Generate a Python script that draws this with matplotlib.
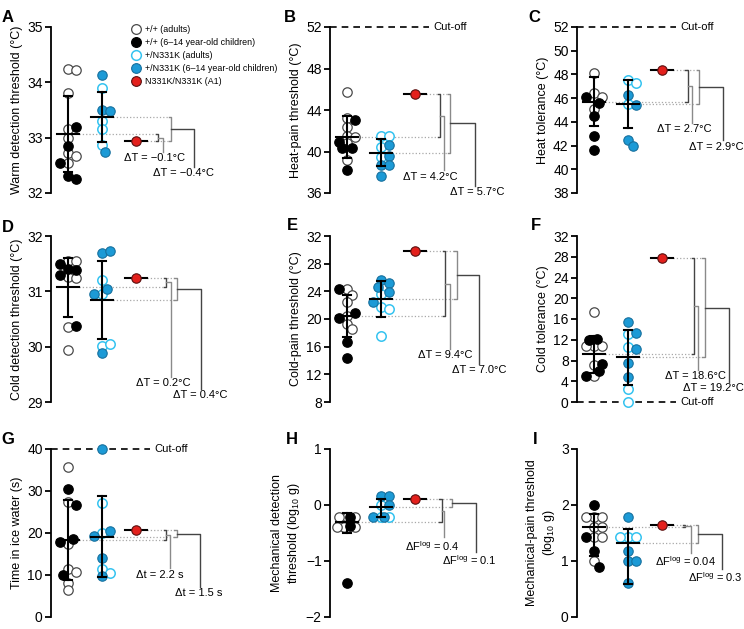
import matplotlib.pyplot as plt
from matplotlib.lines import Line2D

plt.rcParams['font.family'] = ['Liberation Sans', 'DejaVu Sans']
plt.rcParams['mathtext.fontset'] = 'custom'
plt.rcParams['mathtext.rm'] = 'Liberation Sans'
plt.rcParams['mathtext.it'] = 'Liberation Sans:italic'

# ---- values ----
# wt = +/+, het = +/N331K; adults (open), children (filled); hom = N331K/N331K (A1)
A_wt_adult = [34.25, 34.22, 33.80, 33.15, 33.0, 32.72, 32.66, 32.55]
A_wt_child = [33.2, 32.85, 32.55, 32.3, 32.25]
A_het_adult = [33.9, 33.3, 33.15, 32.87]
A_het_child = [34.14, 33.5, 33.48, 32.75]
A_hom = 32.94
A_mean = [33.06, 33.38, 32.94]
A_lo = [32.38, 32.93]
A_hi = [33.75, 33.82]

B_wt_adult = [45.7, 43.25, 42.4, 41.5, 41.4, 40.8, 39.15]
B_wt_child = [43.05, 40.9, 40.3, 40.3, 38.2]
B_het_adult = [41.45, 41.45, 40.4, 39.5]
B_het_child = [40.6, 39.6, 38.7, 38.7, 37.6]
B_hom = 45.5
B_mean = [41.4, 39.9, 45.5]
B_lo = [39.4, 38.65]
B_hi = [43.4, 41.25]

C_wt_adult = [48.1, 46.4, 46.1, 45.1]
C_wt_child = [46.1, 45.55, 44.5, 42.8, 41.6]
C_het_adult = [47.5, 47.3, 45.5]
C_het_child = [46.3, 45.4, 42.5, 42.0]
C_hom = 48.4
C_mean = [45.7, 45.5, 48.4]
C_lo = [43.66, 43.5]
C_hi = [47.79, 47.56]

D_wt_adult = [31.55, 31.55, 31.26, 31.25, 30.35, 29.94]
D_wt_child = [31.49, 31.41, 31.38, 31.29, 30.37]
D_het_adult = [31.2, 30.96, 30.02, 30.05]
D_het_child = [31.7, 31.73, 31.05, 30.96, 29.89]
D_hom = 31.25
D_mean = [31.07, 30.85, 31.25]
D_lo = [30.53, 30.13]
D_hi = [31.6, 31.54]

E_wt_adult = [24.4, 23.5, 22.4, 20.5, 19.3, 18.5]
E_wt_child = [24.3, 20.8, 20.1, 16.7, 14.3]
E_het_adult = [23.6, 21.8, 21.4, 17.6]
E_het_child = [25.7, 25.2, 24.6, 23.9, 22.4]
E_hom = 29.8
E_mean = [20.4, 22.9, 29.8]
E_lo = [17.4, 20.35]
E_hi = [23.4, 25.45]

F_wt_adult = [17.4, 10.85, 10.85, 10.85, 7.1, 5.0]
F_wt_child = [12.1, 11.9, 7.3, 6.0, 5.1]
F_het_adult = [13.2, 10.6, 2.6, 0.0]
F_het_child = [15.5, 13.3, 10.3, 7.5, 4.75]
F_hom = 27.8
F_mean = [9.2, 8.6, 27.8]
F_lo = [5.5, 3.3]
F_hi = [12.7, 13.9]

G_wt_adult = [35.7, 27.3, 17.5, 11.5, 10.6, 8.2, 6.4]
G_wt_child = [30.4, 26.7, 18.6, 17.8, 10.1]
G_het_adult = [27.2, 19.9, 11.5, 10.5]
G_het_child = [40.0, 20.5, 19.3, 14.0, 9.8]
G_hom = 20.6
G_mean = [18.4, 19.0, 20.6]
G_lo = [8.8, 9.5]
G_hi = [27.9, 28.8]

H_wt_adult = [-0.22, -0.22, -0.22, -0.3, -0.4, -0.4, -0.4]
H_wt_child = [-0.22, -0.37, -1.4]
H_het_adult = [0.0, -0.22, -0.22]
H_het_child = [0.16, 0.16, 0.0, -0.22, -0.22]
H_hom = 0.1
H_mean = [-0.31, -0.04, 0.1]
H_lo = [-0.5, -0.21]
H_hi = [-0.15, 0.1]

I_wt_adult = [1.78, 1.78, 1.78, 1.6, 1.6, 1.42, 1.42, 1.0]
I_wt_child = [2.0, 1.42, 1.17, 0.9]
I_het_adult = [1.42, 1.42, 1.42]
I_het_child = [1.78, 1.17, 1.0, 1.0, 0.6]
I_hom = 1.64
I_mean = [1.6, 1.32, 1.64]
I_lo = [1.09, 0.59]
I_hi = [1.84, 1.58]

letters = ['A', 'B', 'C', 'D', 'E', 'F', 'G', 'H', 'I']
ylabels = ['Warm detection threshold (°C)', 'Heat-pain threshold (°C)', 'Heat tolerance (°C)',
           'Cold detection threshold (°C)', 'Cold-pain threshold (°C)', 'Cold tolerance (°C)',
           'Time in ice water (s)', 'Mechanical detection\nthreshold (log$_{10}$ g)',
           'Mechanical-pain threshold\n(log$_{10}$ g)']
ylims = [(32, 35, 1), (36, 52, 4), (38, 52, 2), (29, 32, 1), (8, 32, 4), (0, 32, 4),
         (0, 40, 10), (-2, 1, 1), (0, 3, 1)]
cutoffs = [None, 52, 52, None, None, 0, 40, None, None]
deltas = [('ΔT = −0.1°C', 'ΔT = −0.4°C'), ('ΔT = 4.2°C', 'ΔT = 5.7°C'),
          ('ΔT = 2.7°C', 'ΔT = 2.9°C'), ('ΔT = 0.2°C', 'ΔT = 0.4°C'),
          ('ΔT = 9.4°C', 'ΔT = 7.0°C'), ('ΔT = 18.6°C', 'ΔT = 19.2°C'),
          ('Δt = 2.2 s', 'Δt = 1.5 s'),
          (r'ΔF$^{\mathrm{log}}$ = 0.4', r'ΔF$^{\mathrm{log}}$ = 0.1'),
          (r'ΔF$^{\mathrm{log}}$ = 0.04', r'ΔF$^{\mathrm{log}}$ = 0.3')]
legend_labels = ['+/+ (adults)', '+/+ (6–14 year-old children)', '+/N331K (adults)',
                 '+/N331K (6–14 year-old children)', 'N331K/N331K (A1)']

panels = [
    (A_wt_adult, A_wt_child, A_het_adult, A_het_child, A_hom, A_mean, A_lo, A_hi),
    (B_wt_adult, B_wt_child, B_het_adult, B_het_child, B_hom, B_mean, B_lo, B_hi),
    (C_wt_adult, C_wt_child, C_het_adult, C_het_child, C_hom, C_mean, C_lo, C_hi),
    (D_wt_adult, D_wt_child, D_het_adult, D_het_child, D_hom, D_mean, D_lo, D_hi),
    (E_wt_adult, E_wt_child, E_het_adult, E_het_child, E_hom, E_mean, E_lo, E_hi),
    (F_wt_adult, F_wt_child, F_het_adult, F_het_child, F_hom, F_mean, F_lo, F_hi),
    (G_wt_adult, G_wt_child, G_het_adult, G_het_child, G_hom, G_mean, G_lo, G_hi),
    (H_wt_adult, H_wt_child, H_het_adult, H_het_child, H_hom, H_mean, H_lo, H_hi),
    (I_wt_adult, I_wt_child, I_het_adult, I_het_child, I_hom, I_mean, I_lo, I_hi),
]

# ---- layout (pixels of the 744x629 figure) ----
W, H = 744, 629
col_x = [51, 330, 577]
rows = [(27, 193), (236, 402), (449, 617)]
PX = 34  # pixels per x unit
# small bracket x, its stub end, large bracket x, its stub end
brackets = [(3.65, 3.79, 4.03, 4.71), (3.74, 3.85, 4.03, 4.76), (3.76, 3.88, 4.09, 4.79),
            (3.88, 4.03, 4.2, 4.9), (3.88, 4.03, 4.23, 4.88), (3.94, 4.06, 4.26, 4.97),
            (3.88, 4.0, 4.2, 4.88), (3.79, 3.85, 4.09, 4.79), (3.68, 3.85, 4.06, 4.76)]
# text (x, top y) for the small and the large delta
dtext = [((3.56, 32.74), (4.41, 32.47)), ((3.44, 38.2), (4.82, 36.7)),
         ((3.65, 43.9), (4.6, 42.45)), ((3.79, 29.45), (4.88, 29.24)),
         ((3.88, 15.7), (4.88, 13.55)), ((4.0, 6.2), (4.5, 3.85)),
         ((3.7, 11.55), (4.85, 7.2)), ((3.5, -0.58), (4.59, -0.84)),
         ((3.68, 1.14), (4.56, 0.86))]
letter_pos = [(8, 17), (290, 17), (534, 18), (8, 228), (292, 226), (536, 226),
              (8, 439), (292, 440), (535, 439)]

WT_EDGE = '#4a4a4a'
HET_OPEN = '#35c3f0'
HET_FILL = '#1c9ad6'
HET_EDGE = '#17709e'
HOM_FILL = '#e3201c'
HOM_EDGE = '#5a1010'
MS = 46


def swarm(vals, base, ppu):
    # simple beeswarm: nearest free horizontal slot, allowing partial overlap
    placed = []
    xs = []
    steps = [0, 0.08, -0.08, 0.16, -0.16, 0.24, -0.24, 0.3, -0.3]
    for v in vals:
        best, best_d = 0, -1
        for dx in steps:
            d = min([(((dx - px) * PX) ** 2 + ((v - py) * ppu) ** 2) ** 0.5 for px, py in placed] or [99])
            if d >= 7:
                best = dx
                break
            if d > best_d:
                best, best_d = dx, d
        placed.append((best, v))
        xs.append(base + best)
    return xs


def bracket(ax, x, y1, y2, x_end, y_end, c1, c2):
    t = 0.07
    ax.plot([x - t, x, x, x - t], [y1, y1, y2, y2], color=c1, lw=1, clip_on=False, zorder=4)
    mid = (y1 + y2) / 2
    ax.plot([x, x_end, x_end], [mid, mid, y_end], color=c2, lw=1, clip_on=False, zorder=4)


fig = plt.figure(figsize=(W / 100, H / 100), dpi=100)

for i, (wa, wc, ha, hc, hom, mean, lo, hi) in enumerate(panels):
    r, c = divmod(i, 3)
    top, bot = rows[r]
    ax = fig.add_axes([col_x[c] / W, 1 - bot / H, 170 / W, (bot - top) / H])
    y0, y1, step = ylims[i]
    ax.set_xlim(0.5, 5.5)
    ax.set_ylim(y0, y1)
    ticks = [y0 + k * step for k in range(int(round((y1 - y0) / step)) + 1)]
    ax.set_yticks(ticks)
    for s in ['top', 'right', 'bottom']:
        ax.spines[s].set_visible(False)
    ax.spines['left'].set_linewidth(1.3)
    ax.set_xticks([])
    ax.tick_params(axis='y', length=4, width=1.3, labelsize=10, pad=2)
    ax.set_ylabel(ylabels[i], fontsize=9, labelpad=3)
    ax.patch.set_visible(False)
    ppu = (bot - top) / (y1 - y0)

    for g, (adult, child, base) in enumerate([(wa, wc, 1), (ha, hc, 2)]):
        xs = swarm(adult + child, base, ppu)
        xa, xc = xs[:len(adult)], xs[len(adult):]
        if g == 0:
            ax.scatter(xa, adult, s=MS, facecolor='white', edgecolor=WT_EDGE, lw=0.9, zorder=2, clip_on=False)
            ax.scatter(xc, child, s=MS, facecolor='black', edgecolor='black', lw=0.9, zorder=2, clip_on=False)
        else:
            ax.scatter(xa, adult, s=MS, facecolor='white', edgecolor=HET_OPEN, lw=1.1, zorder=2, clip_on=False)
            ax.scatter(xc, child, s=MS, facecolor=HET_FILL, edgecolor=HET_EDGE, lw=0.8, zorder=2, clip_on=False)
        ax.plot([base - 0.31, base + 0.31], [mean[g], mean[g]], color='black', lw=1.5, zorder=3)
        ax.plot([base, base], [lo[g], hi[g]], color='black', lw=1.5, zorder=3)
        for yy in (lo[g], hi[g]):
            ax.plot([base - 0.12, base + 0.12], [yy, yy], color='black', lw=1.5, zorder=3)

    ax.plot([2.69, 3.31], [mean[2], mean[2]], color='black', lw=1.5, zorder=3)
    ax.scatter([3], [hom], s=MS, facecolor=HOM_FILL, edgecolor=HOM_EDGE, lw=0.8, zorder=5)

    xs_, xse, xl, xle = brackets[i]
    dot = dict(ls=':', color='#a8a8a8', lw=0.9, zorder=1, clip_on=False)
    ax.plot([1.31, xs_ - 0.07], [mean[0], mean[0]], **dot)
    ax.plot([2.31, xl - 0.07], [mean[1], mean[1]], **dot)
    ax.plot([3.31, xl - 0.07], [mean[2], mean[2]], **dot)
    (tsx, tsy), (tlx, tly) = dtext[i]
    bracket(ax, xs_, mean[2], mean[0], xse, tsy, '#444444', '#8a8a8a')
    bracket(ax, xl, mean[2], mean[1], xle, tly, '#8a8a8a', '#444444')
    ax.annotate(deltas[i][0], (tsx, tsy), xytext=(0, -1), textcoords='offset points',
                ha='center', va='top', fontsize=8, annotation_clip=False)
    ax.annotate(deltas[i][1], (tlx, tly), xytext=(0, -1), textcoords='offset points',
                ha='center', va='top', fontsize=8, annotation_clip=False)

    if cutoffs[i] is not None:
        ax.plot([0.5, 3.4], [cutoffs[i], cutoffs[i]], color='black', lw=1.2,
                dashes=(4, 3), clip_on=False, zorder=1)
        ax.text(3.55, cutoffs[i], 'Cut-off', fontsize=8, va='center', ha='left')

    lx, ly = letter_pos[i]
    fig.text(lx / W, 1 - ly / H, letters[i], fontsize=12, fontweight='bold',
             ha='center', va='center')

handles = [
    Line2D([], [], ls='', marker='o', ms=7, mfc='white', mec=WT_EDGE, mew=0.9),
    Line2D([], [], ls='', marker='o', ms=7, mfc='black', mec='black', mew=0.9),
    Line2D([], [], ls='', marker='o', ms=7, mfc='white', mec=HET_OPEN, mew=1.1),
    Line2D([], [], ls='', marker='o', ms=7, mfc=HET_FILL, mec=HET_EDGE, mew=0.8),
    Line2D([], [], ls='', marker='o', ms=7, mfc=HOM_FILL, mec=HOM_EDGE, mew=0.8),
]
fig.legend(handles, legend_labels, loc='upper left', bbox_to_anchor=(132 / W, 1 - 25 / H),
           frameon=False, fontsize=6.4, handlelength=1.0, handletextpad=0.5,
           labelspacing=0.45, borderpad=0, borderaxespad=0)

fig.savefig('out.png', dpi=100)
